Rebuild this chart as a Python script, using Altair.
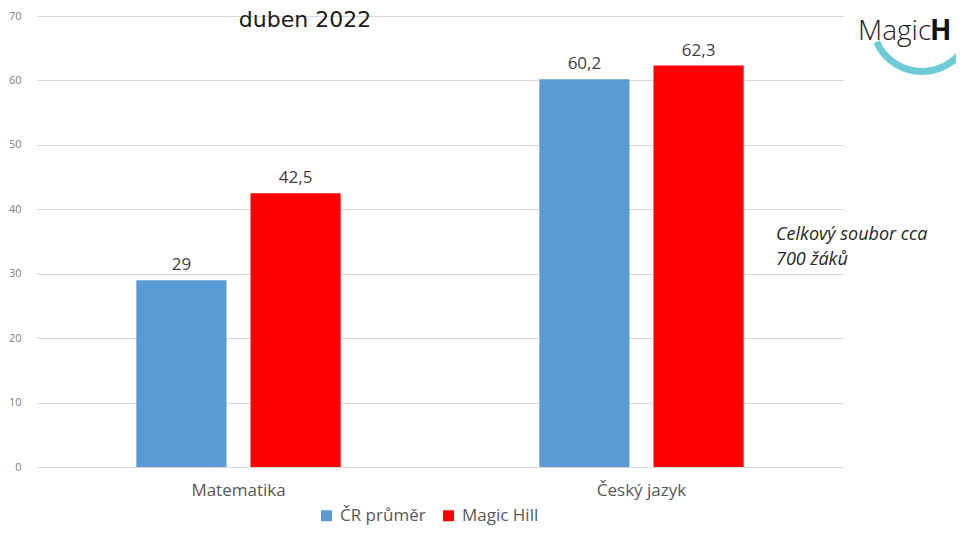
import altair as alt
import pandas as pd

categories = ["Matematika", "Český jazyk"]
series = ["ČR průměr", "Magic Hill"]
cr_values = [29, 60.2]
mh_values = [42.5, 62.3]
colors = ["#5B9BD5", "#FF0000"]
y_ticks = [0, 10, 20, 30, 40, 50, 60, 70]

rows = []
for i, c in enumerate(categories):
    rows.append({"kategorie": c, "serie": series[0], "hodnota": cr_values[i]})
    rows.append({"kategorie": c, "serie": series[1], "hodnota": mh_values[i]})
df = pd.DataFrame(rows)

W, H = 806, 451

x_enc = alt.X("kategorie:N", sort=categories,
              scale=alt.Scale(paddingInner=0, paddingOuter=0),
              axis=alt.Axis(title=None, labelAngle=0, ticks=False, domain=False,
                            labelFont="Open Sans", labelFontSize=17,
                            labelColor="#595959", labelPadding=15))
xoff = alt.XOffset("serie:N", sort=series,
                   scale=alt.Scale(paddingInner=0.21, paddingOuter=0.87))
y_enc = alt.Y("hodnota:Q",
              scale=alt.Scale(domain=[0, 70], nice=False),
              axis=alt.Axis(title=None, values=y_ticks, ticks=False, domain=False,
                            labelFont="Open Sans", labelFontSize=11,
                            labelColor="#808080", labelPadding=16,
                            gridColor="#D9D9D9", gridWidth=1))

base = alt.Chart(df)

bars = base.mark_bar().encode(
    x=x_enc, xOffset=xoff, y=y_enc,
    color=alt.Color("serie:N", sort=series,
                    scale=alt.Scale(domain=series, range=colors),
                    legend=alt.Legend(title=None, orient="none", direction="horizontal",
                                      legendX=281, legendY=491,
                                      symbolType="square", symbolSize=120,
                                      symbolStrokeWidth=0,
                                      labelFont="Open Sans", labelFontSize=17,
                                      labelColor="#595959", columnPadding=14,
                                      labelOffset=5, symbolOffset=0, padding=0)),
)

labels = base.transform_calculate(
    lbl="replace(format(datum.hodnota, ''), '.', ',')"
).mark_text(baseline="bottom", dy=-6, font="Open Sans", fontSize=17,
            color="#404040").encode(
    x=x_enc, xOffset=xoff, y=y_enc, text="lbl:N"
)

title = alt.Chart(pd.DataFrame({"t": ["duben 2022"]})).mark_text(
    font="DejaVu Sans", fontSize=22, color="#1a1a1a", align="center",
    baseline="alphabetic"
).encode(x=alt.value(268), y=alt.value(11), text="t:N")

note = alt.Chart(pd.DataFrame({"t": [["Celkový soubor cca", "700 žáků"]]})).mark_text(
    font="Open Sans", fontSize=18, fontStyle="italic", color="#262626",
    align="left", baseline="middle", lineHeight=25
).encode(x=alt.value(739), y=alt.value(219), text="t:N")

logo_arc = alt.Chart(pd.DataFrame({"a": [1]})).mark_arc(
    color="#6FCBD6", innerRadius=46, outerRadius=53,
    theta=1.9, theta2=4.3
).encode(x=alt.value(885), y=alt.value(6))

logo_magic = alt.Chart(pd.DataFrame({"t": ["Magic"]})).mark_text(
    font="Open Sans", fontSize=28, fontWeight=300, color="#222222",
    align="left", baseline="alphabetic"
).encode(x=alt.value(821), y=alt.value(24), text="t:N")

logo_h = alt.Chart(pd.DataFrame({"t": ["H"]})).mark_text(
    font="Open Sans", fontSize=28, fontWeight="bold", color="#111111",
    align="left", baseline="alphabetic"
).encode(x=alt.value(893), y=alt.value(24), text="t:N")

chart = alt.layer(bars, labels, title, note, logo_arc, logo_magic, logo_h).properties(
    width=W, height=H,
    autosize=alt.AutoSizeParams(type="none"),
    padding={"left": 29, "top": 8, "right": 113, "bottom": 61},
).configure_view(stroke=None).configure_axis(labelFont="Open Sans")

chart.save("out.html", embed_options={"renderer": "svg", "actions": False})
